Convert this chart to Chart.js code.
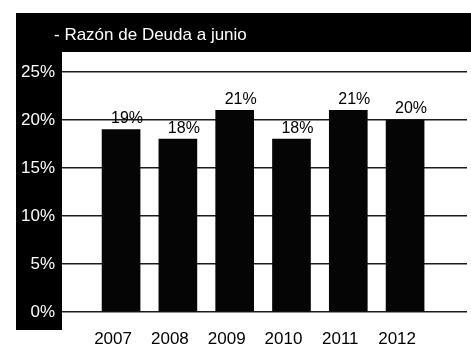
<!DOCTYPE html>
<html>
<head>
<meta charset="utf-8">
<script src="https://cdn.jsdelivr.net/npm/chart.js@4/dist/chart.umd.min.js"></script>
<style>
  html, body { margin: 0; padding: 0; background: #fff; }
  #wrap { width: 471px; height: 351px; }
</style>
</head>
<body>
<div id="wrap"><canvas id="deudaChart" width="471" height="351"></canvas></div>
<script>
// Razón de deuda a junio, por año
const years = [2007, 2008, 2009, 2010, 2011, 2012];
const ratios = [19, 18, 21, 18, 21, 20];
const yTicks = [0, 5, 10, 15, 20, 25];
const titleText = '- Razón de Deuda a junio';

const FONT = '"Liberation Sans", Arial, sans-serif';

// marco negro: barra del título y franja del eje Y
const framePlugin = {
  id: 'frame',
  beforeDraw(chart) {
    const ctx = chart.ctx;
    ctx.save();
    ctx.fillStyle = '#fff';
    ctx.fillRect(0, 0, chart.width, chart.height);
    ctx.fillStyle = '#000';
    ctx.fillRect(16, 13, chart.width - 16, 39);
    ctx.fillRect(16, 13, 46, 317);
    ctx.fillStyle = '#fff';
    ctx.font = '17px ' + FONT;
    ctx.textBaseline = 'alphabetic';
    ctx.fillText(titleText, 54, 40);
    ctx.restore();
  }
};

// porcentaje encima de cada barra
const valueLabels = {
  id: 'valueLabels',
  afterDatasetsDraw(chart) {
    const ctx = chart.ctx;
    const meta = chart.getDatasetMeta(0);
    ctx.save();
    ctx.fillStyle = '#000';
    ctx.font = '16px ' + FONT;
    ctx.textAlign = 'center';
    ctx.textBaseline = 'bottom';
    meta.data.forEach((bar, i) => {
      ctx.fillText(ratios[i] + '%', bar.x + 6, bar.y - 3);
    });
    ctx.restore();
  }
};

new Chart(document.getElementById('deudaChart'), {
  type: 'bar',
  data: {
    datasets: [{
      label: 'Razón de Deuda',
      data: years.map((y, i) => ({ x: y, y: ratios[i] })),
      backgroundColor: '#050505',
      borderWidth: 0,
      barThickness: 38
    }]
  },
  options: {
    responsive: false,
    animation: false,
    layout: { padding: { left: 16, right: 4, top: 72, bottom: 0 } },
    plugins: {
      legend: { display: false },
      title: { display: false },
      tooltip: { enabled: false }
    },
    scales: {
      x: {
        type: 'linear',
        offset: false,
        min: 2005.96,
        max: 2013.09,
        afterBuildTicks: scale => { scale.ticks = years.map(v => ({ value: v })); },
        afterFit: scale => { scale.height = 39; },
        grid: { display: false, drawTicks: false },
        border: { display: false },
        ticks: {
          color: '#000',
          font: { size: 17, family: FONT },
          padding: 17,
          labelOffset: -8,
          callback: v => String(v)
        }
      },
      y: {
        min: 0,
        max: 25,
        afterBuildTicks: scale => { scale.ticks = yTicks.map(v => ({ value: v })); },
        afterFit: scale => { scale.width = 46; },
        grid: { color: '#1c1c1c', lineWidth: 1.5, drawTicks: false },
        border: { display: false },
        ticks: {
          color: '#fff',
          font: { size: 17, family: FONT },
          padding: 7,
          callback: v => v + '%'
        }
      }
    }
  },
  plugins: [framePlugin, valueLabels]
});
</script>
</body>
</html>
